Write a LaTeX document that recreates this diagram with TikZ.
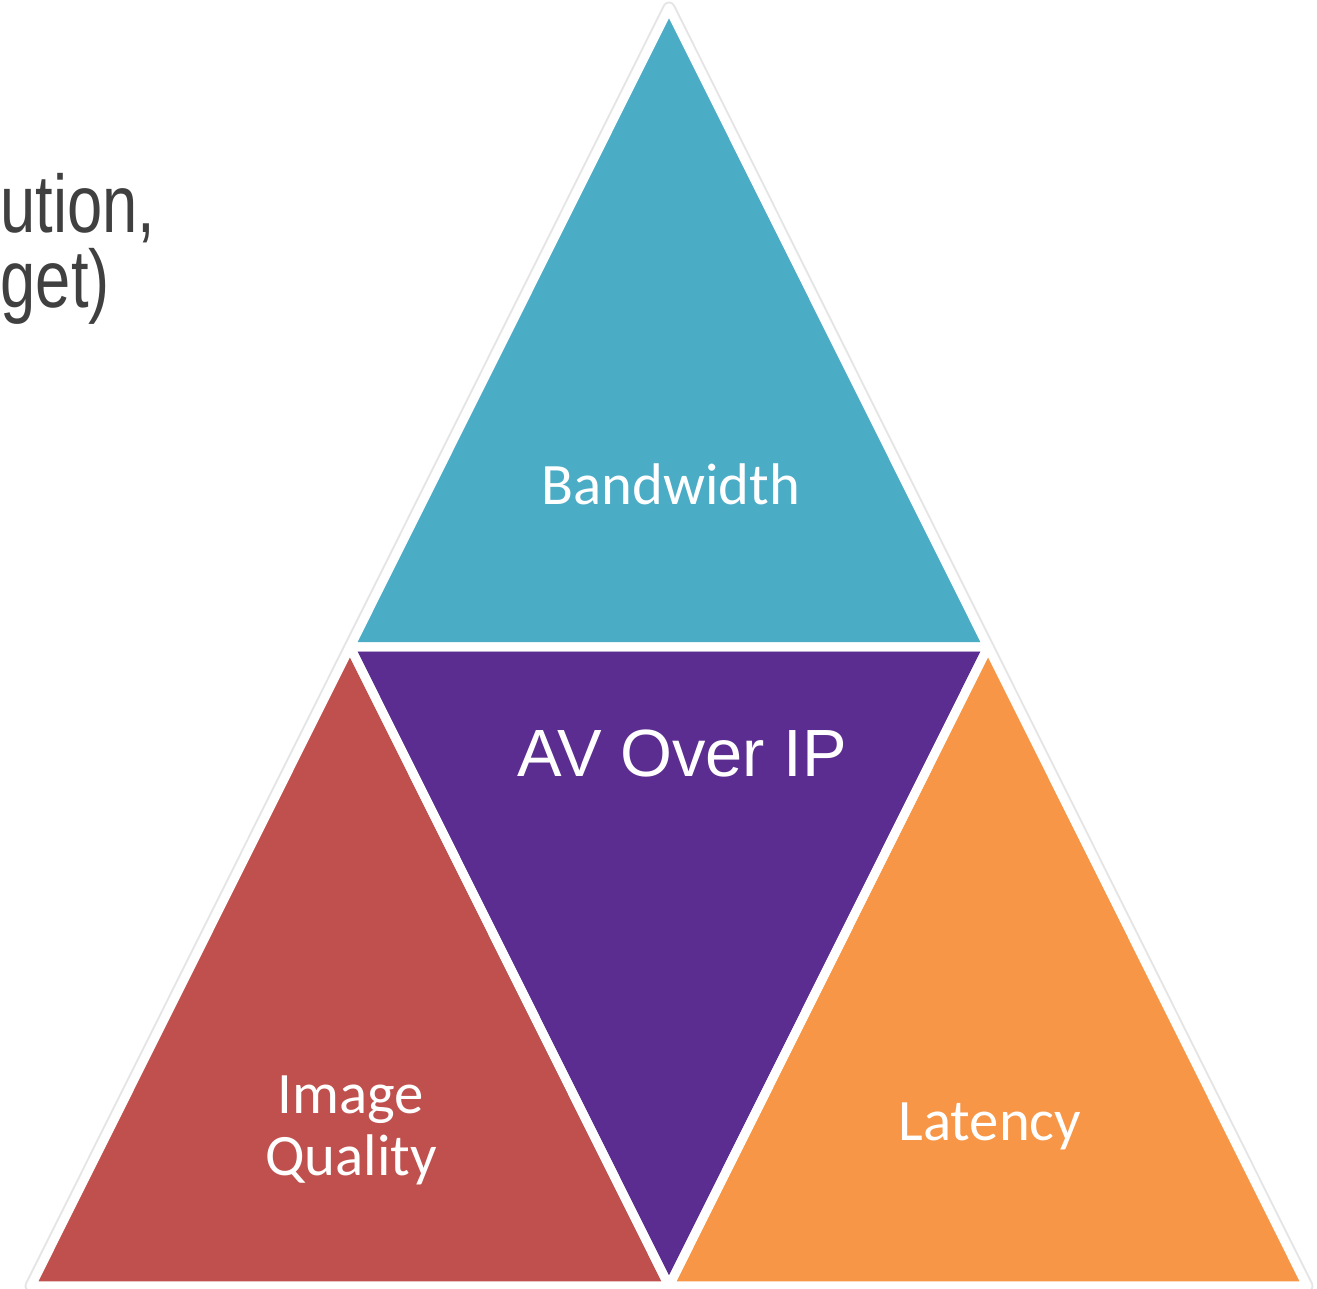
\documentclass[tikz,border=0pt]{standalone}
\usepackage{fontspec}
\usepackage{graphicx}
\usepackage{tikz}
\usetikzlibrary{positioning}
\newfontfamily\calfont{Carlito}
\newfontfamily\arfont{Liberation Sans}
\definecolor{bwblue}{HTML}{4BACC6}
\definecolor{iqred}{HTML}{C0504D}
\definecolor{avpurple}{HTML}{5C2D91}
\definecolor{latorange}{HTML}{F79646}
\definecolor{notegray}{HTML}{404040}
\tikzset{
  halo/.style={draw=black, draw opacity=0.1, line width=0.13cm},
  edge/.style={draw=white, line width=0.09cm},
  lbl/.style={text=white, inner sep=0pt, font=\calfont\fontsize{16.7}{17.6}\selectfont},
  note/.style={text=notegray, inner sep=0pt, anchor=base west, font=\arfont\fontsize{18}{22}\selectfont}
}

\begin{document}
\begin{tikzpicture}[line cap=round,line join=round,x=0.01cm,y=-0.01cm]
\useasboundingbox (0,0) rectangle (1317,1289);
% corners of the big triangle and its midpoints
\coordinate (top) at (669,8);
\coordinate (bl) at (31,1286);
\coordinate (br) at (1307,1286);
\coordinate (ml) at (350,647);
\coordinate (mr) at (988,647);
\coordinate (mb) at (669,1286);
% faint shadow round the outside
\begin{scope}
\clip (0,0) rectangle (1317,1289);
\path[halo] (top) -- (bl) -- (br) -- cycle;
\end{scope}
\fill[bwblue] (top) -- (ml) -- (mr) -- cycle;
\fill[iqred] (ml) -- (bl) -- (mb) -- cycle;
\fill[avpurple] (ml) -- (mr) -- (mb) -- cycle;
\fill[latorange] (mr) -- (mb) -- (br) -- cycle;
\foreach \a/\b/\c in {top/ml/mr, ml/bl/mb, ml/mr/mb, mr/mb/br}
  \draw[edge] (\a) -- (\b) -- (\c) -- cycle;
% labels
\node[lbl, anchor=base] (bandwidth) at (671,505) {Bandwidth};
\node[lbl, anchor=base, font=\arfont\fontsize{19}{23}\selectfont] (avoverip) at (682,777) {AV Over IP};
\node[lbl, align=center] (quality) at (351,1130) {Image\\Quality};
\node[lbl, anchor=base] (latency) at (990,1141) {Latency};
% text at the left edge
\node[note] (noteA) at (0,233) {\scalebox{1}[1.29]{ution,}};
\node[note] (noteB) at (0,308) {\scalebox{1}[1.29]{get)}};
\end{tikzpicture}
\end{document}
